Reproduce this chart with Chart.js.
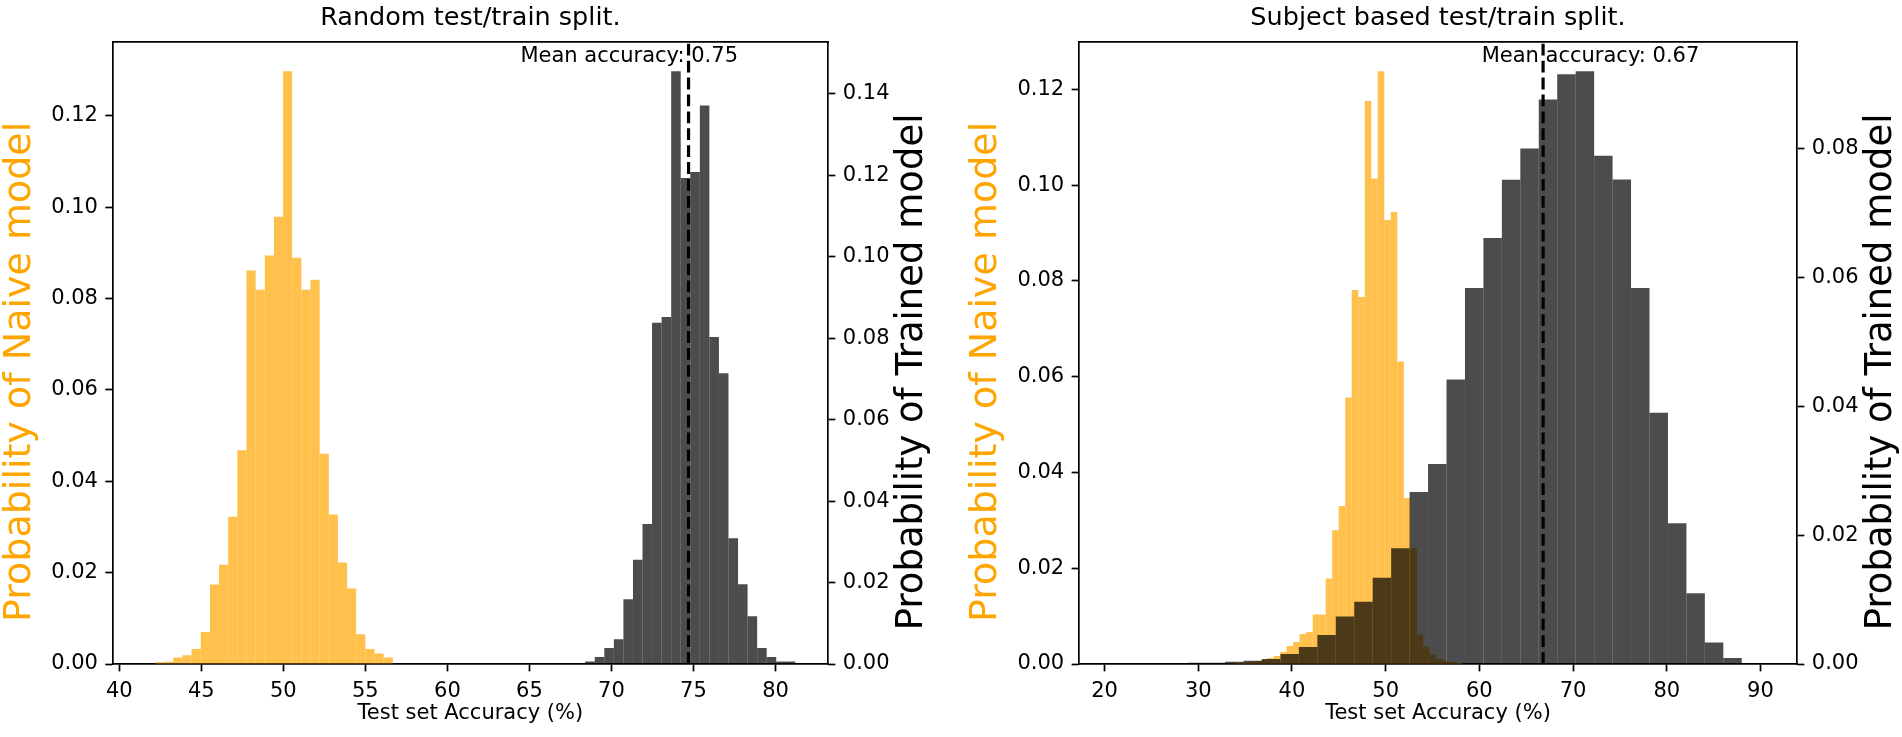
<!DOCTYPE html>
<html>
<head>
<meta charset="utf-8">
<script src="https://cdn.jsdelivr.net/npm/chart.js@4.4.1/dist/chart.umd.min.js"></script>
<style>
  html, body { margin: 0; padding: 0; background: #fff; }
  #wrap { position: relative; width: 1902px; height: 737px; }
  canvas { position: absolute; top: 0; }
</style>
</head>
<body>
<div id="wrap">
  <canvas id="left" width="951" height="737" style="left:0"></canvas>
  <canvas id="right" width="951" height="737" style="left:951px"></canvas>
</div>
<script>
// histogram bins: first edge + bin width (accuracy %), heights are probabilities
const leftNaiveStart = 42.18, leftNaiveWidth = 0.5574;
const leftNaive = [0.0004, 0.0005, 0.0014, 0.0019, 0.0033, 0.0070, 0.0174, 0.0217, 0.0322, 0.0468,
  0.0861, 0.0819, 0.0894, 0.0979, 0.1297, 0.0889, 0.0819, 0.0841, 0.0460, 0.0327,
  0.0222, 0.0165, 0.0065, 0.0033, 0.0023, 0.0014];

const leftTrainedStart = 68.40, leftTrainedWidth = 0.5823;
const leftTrained = [0.0006, 0.0017, 0.0039, 0.0061, 0.0159, 0.0256, 0.0344, 0.0838, 0.0852, 0.1455,
  0.1193, 0.1208, 0.1371, 0.0803, 0.0714, 0.0309, 0.0196, 0.0117, 0.0039, 0.0017,
  0.0006, 0.0006];

const rightNaiveStart = 33.18, rightNaiveWidth = 0.6946;
const rightNaive = [0.00017, 0.00021, 0.00031, 0.00042, 0.00063, 0.00084, 0.00125, 0.00167, 0.0025, 0.00376,
  0.00459, 0.00626, 0.00668, 0.01034, 0.01034, 0.01787, 0.02794, 0.03299, 0.05562, 0.07811,
  0.07661, 0.11753, 0.10135, 0.12375, 0.09271, 0.09438, 0.06318, 0.03466, 0.02418, 0.00614,
  0.00361, 0.00194, 0.00104, 0.00063, 0.00042, 0.00021];

const rightTrainedStart = 28.92, rightTrainedWidth = 1.9695;
const rightTrained = [0.0002, 0.0002, 0.00036, 0.0005, 0.00078, 0.00155, 0.00264, 0.0045, 0.00737, 0.00967,
  0.0134, 0.01797, 0.02668, 0.03104, 0.04414, 0.05835, 0.06609, 0.07512, 0.07998, 0.08758,
  0.0915, 0.09195, 0.07886, 0.07518, 0.05835, 0.03897, 0.02183, 0.01098, 0.00332, 0.00095];

const panelTitles = ['Random test/train split.', 'Subject based test/train split.'];
const meanAccuracy = [74.7, 66.8];
const meanLabelX = [64.45, 60.25];
const xLimits = [[39.6, 83.2], [17.27, 93.9]];
const xSteps = [5, 10];

const FONT = 'DejaVu Sans';
Chart.defaults.font.family = FONT;
Chart.defaults.color = '#000';

function bins(start, width, heights) {
  return heights.map((h, i) => ({ x: start + width * (i + 0.5), y: h }));
}

const tickGrid = { display: true, drawOnChartArea: false, drawTicks: true, tickLength: 7.4, tickWidth: 1.7, tickColor: '#000', offset: false };
const spine = { display: true, color: '#000', width: 1.7 };
const tickFont = { size: 21 };

// y labels drawn matplotlib style (both read bottom-to-top)
const sideLabels = {
  id: 'sideLabels',
  afterDraw(chart, args, opts) {
    const { ctx, chartArea: a } = chart;
    const cy = (a.top + a.bottom) / 2 + 19;
    const items = [
      [a.left - opts.leftGap, '#FFA500', 38, 'Probability of Naive model'],
      [a.right + 84, '#000', 37, 'Probability of Trained model']
    ];
    items.forEach(([x, color, size, text]) => {
      ctx.save();
      ctx.font = size + 'px "' + FONT + '"';
      ctx.fillStyle = color;
      ctx.textAlign = 'center';
      ctx.textBaseline = 'middle';
      ctx.translate(x, cy);
      ctx.rotate(-Math.PI / 2);
      ctx.fillText(text, 0, 0);
      ctx.restore();
    });
  }
};

const meanLabel = {
  id: 'meanLabel',
  afterDatasetsDraw(chart, args, opts) {
    const { ctx, scales } = chart;
    ctx.save();
    ctx.font = '21px "' + FONT + '"';
    ctx.fillStyle = '#000';
    ctx.textAlign = 'left';
    ctx.textBaseline = 'middle';
    ctx.fillText(opts.text, scales.x.getPixelForValue(opts.x), scales.y.getPixelForValue(scales.y.max * 0.976));
    ctx.restore();
  }
};

function makePanel(canvasId, p) {
  const yMaxN = Math.max(...p.naive.map(d => d.y)) * 1.05;
  const yMaxT = Math.max(...p.trained.map(d => d.y)) * 1.05;
  const [xMin, xMax] = p.xLim;
  const barStyle = { barPercentage: 1, categoryPercentage: 1, borderWidth: 0, inflateAmount: 0, grouped: false };
  new Chart(document.getElementById(canvasId), {
    data: {
      datasets: [
        {
          type: 'line', order: 0, xAxisID: 'x', yAxisID: 'y',
          data: [{ x: p.mean, y: 0 }, { x: p.mean, y: yMaxN }],
          borderColor: '#000', borderWidth: 3.2, borderDash: [11.8, 5.1], pointRadius: 0
        },
        Object.assign({
          type: 'bar', order: 1, label: 'Trained', xAxisID: 'xT', yAxisID: 'yR',
          data: p.trained, backgroundColor: 'rgba(0,0,0,0.7)'
        }, barStyle),
        Object.assign({
          type: 'bar', order: 2, label: 'Naive', xAxisID: 'x', yAxisID: 'y',
          data: p.naive, backgroundColor: 'rgba(255,165,0,0.7)'
        }, barStyle)
      ]
    },
    options: {
      responsive: false,
      animation: false,
      layout: { padding: 0 },
      plugins: {
        legend: { display: false },
        tooltip: { enabled: false },
        title: {
          display: true, text: p.title, fullSize: false, color: '#000',
          font: { size: 25.5, weight: 'normal' }, padding: { top: 3.2, bottom: 7.9 }
        },
        meanLabel: { text: 'Mean accuracy: ' + (p.mean / 100).toFixed(2), x: p.labelX },
        sideLabels: { leftGap: 92.5 }
      },
      scales: {
        x: {
          type: 'linear', position: 'bottom', min: xMin, max: xMax, offset: false,
          ticks: { stepSize: p.xStep, includeBounds: false, font: tickFont, padding: 7.4, maxRotation: 0, autoSkip: false, color: '#000' },
          grid: tickGrid, border: spine,
          title: { display: true, text: 'Test set Accuracy (%)', color: '#000', font: { size: 21 }, padding: { top: 0, bottom: 10.4 } },
          afterFit: s => { s.height = 73; }
        },
        xT: {
          type: 'linear', display: false, min: xMin, max: xMax, offset: false,
          ticks: { stepSize: p.xStep, includeBounds: false }
        },
        xTop: {
          type: 'linear', position: 'top', min: xMin, max: xMax, offset: false,
          ticks: { display: false, includeBounds: false }, grid: { display: false, drawTicks: false }, border: spine,
          afterFit: s => { s.height = 0; }
        },
        y: {
          type: 'linear', position: 'left', min: 0, max: yMaxN,
          ticks: { stepSize: 0.02, includeBounds: false, font: tickFont, padding: 7.4, color: '#000', callback: v => v.toFixed(2) },
          grid: tickGrid, border: spine,
          afterFit: s => { s.width = p.leftW; }
        },
        yR: {
          type: 'linear', position: 'right', min: 0, max: yMaxT,
          ticks: { stepSize: 0.02, includeBounds: false, font: tickFont, padding: 7.4, color: '#000', callback: v => v.toFixed(2) },
          grid: tickGrid, border: spine,
          afterFit: s => { s.width = p.rightW; }
        }
      }
    },
    plugins: [sideLabels, meanLabel]
  });
}

makePanel('left', {
  title: panelTitles[0], xLim: xLimits[0], xStep: xSteps[0],
  naive: bins(leftNaiveStart, leftNaiveWidth, leftNaive),
  trained: bins(leftTrainedStart, leftTrainedWidth, leftTrained),
  mean: meanAccuracy[0], labelX: meanLabelX[0], leftW: 112.7, rightW: 123
});

makePanel('right', {
  title: panelTitles[1], xLim: xLimits[1], xStep: xSteps[1],
  naive: bins(rightNaiveStart, rightNaiveWidth, rightNaive),
  trained: bins(rightTrainedStart, rightTrainedWidth, rightTrained),
  mean: meanAccuracy[1], labelX: meanLabelX[1], leftW: 128, rightW: 105
});
</script>
</body>
</html>
